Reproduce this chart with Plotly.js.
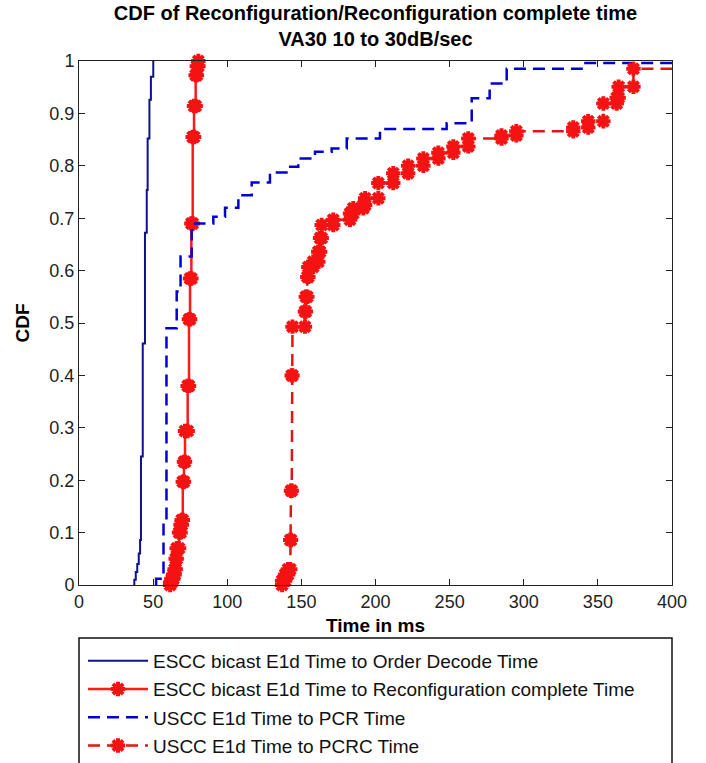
<!DOCTYPE html>
<html>
<head>
<meta charset="utf-8">
<script src="https://cdn.plot.ly/plotly-3.0.1.min.js"></script>
<style>html,body{margin:0;padding:0;background:#fff;}#chart{width:706px;height:763px;}</style>
</head>
<body>
<div id="chart"></div>
<script>
// ---- data (step positions in ms, CDF level after each step) ----
const seriesNames = [
  "ESCC bicast E1d Time to Order Decode Time",
  "ESCC bicast E1d Time to Reconfiguration complete Time",
  "USCC E1d Time to PCR Time",
  "USCC E1d Time to PCRC Time"
];
const escOrderX = [37.3, 38.3, 39.3, 40.3, 41.2, 41.8, 43.0, 44.5, 45.7, 46.3, 47.5, 48.5, 50.1];
const escOrderF = [0.01, 0.025, 0.04, 0.06, 0.086, 0.245, 0.461, 0.672, 0.754, 0.852, 0.926, 0.97, 1.0];

const escReconfX = [61.5, 62.5, 63.6, 64.5, 65.2, 65.9, 67.5, 68.5, 69.3, 70.0, 70.8, 71.5, 73.3, 74.2, 74.9, 75.8, 76.7, 77.6, 78.7, 79.5, 80.5];
const escReconfF = [0.005, 0.012, 0.02, 0.03, 0.05, 0.07, 0.10, 0.115, 0.124, 0.197, 0.235, 0.294, 0.38, 0.507, 0.585, 0.69, 0.855, 0.914, 0.973, 0.99, 1.0];

const usPcrX = [52, 57, 59, 65.9, 68.5, 76, 78.3, 90.6, 98.5, 107.5, 116.5, 128.8, 141.2, 147.9, 159.2, 170.4, 180.6, 203, 248, 264.9, 277, 288.5, 339];
const usPcrF = [0.012, 0.12, 0.49, 0.56, 0.627, 0.677, 0.69, 0.703, 0.72, 0.744, 0.768, 0.787, 0.798, 0.814, 0.827, 0.833, 0.852, 0.870, 0.881, 0.929, 0.957, 0.985, 0.996];

const usPcrcX = [137, 139, 141, 142.5, 143, 143.5, 144, 152.4, 153, 154, 154.7, 158, 161.4, 162.6, 163.7, 171.5, 182.8, 185, 191.8, 193, 201.9, 212, 222, 232.3, 242.4, 252.5, 262.6, 285, 295, 333.4, 343.5, 353.7, 362.7, 364, 374];
const usPcrcF = [0.008, 0.02, 0.03, 0.086, 0.18, 0.40, 0.493, 0.522, 0.55, 0.588, 0.607, 0.617, 0.636, 0.662, 0.687, 0.697, 0.709, 0.719, 0.725, 0.738, 0.767, 0.786, 0.80, 0.814, 0.825, 0.837, 0.852, 0.858, 0.866, 0.873, 0.885, 0.919, 0.93, 0.951, 0.985];

const xTicks = [0, 50, 100, 150, 200, 250, 300, 350, 400];
const yTicks = [0, 0.1, 0.2, 0.3, 0.4, 0.5, 0.6, 0.7, 0.8, 0.9, 1];
const yTickText = ["0", "0.1", "0.2", "0.3", "0.4", "0.5", "0.6", "0.7", "0.8", "0.9", "1"];

// build empirical-CDF staircase (like MATLAB cdfplot); an unfinished CDF continues to +inf
const X_INF = 1e5;
function stairs(xs, fs) {
  const x = [xs[0]], y = [0];
  for (let i = 0; i < xs.length; i++) {
    if (i > 0) { x.push(xs[i]); y.push(fs[i - 1]); }
    x.push(xs[i]); y.push(fs[i]);
  }
  if (fs[fs.length - 1] < 1) { x.push(X_INF); y.push(fs[fs.length - 1]); }
  return {x, y};
}

const FONT = "Liberation Sans, Arial, Helvetica, sans-serif";
const s1 = stairs(escOrderX, escOrderF);
const s2 = stairs(escReconfX, escReconfF);
const s3 = stairs(usPcrX, usPcrF);
const s4 = stairs(usPcrcX, usPcrcF);

const starMarker = {symbol: "asterisk-open", size: 12, color: "#f51212", line: {color: "#f51212", width: 4}};

const traces = [
  {x: s1.x, y: s1.y, name: seriesNames[0], mode: "lines", legendgroup: "a",
   line: {color: "#10108c", width: 2}},
  {x: s2.x, y: s2.y, name: seriesNames[1], mode: "lines+markers", legendgroup: "b",
   line: {color: "#ff1a1a", width: 2.5}, marker: starMarker, cliponaxis: false},
  {x: s3.x, y: s3.y, name: seriesNames[2], mode: "lines", legendgroup: "c",
   line: {color: "#0000d0", width: 2.5, dash: "12px,7px"}},
  {x: s4.x, y: s4.y, name: seriesNames[3], mode: "lines+markers", legendgroup: "d",
   line: {color: "#e01515", width: 2.5, dash: "12px,7px"}, marker: starMarker, cliponaxis: false}
];

const L = 79, R = 672, T = 61, B = 585, W = 706, H = 763;
const px2x = p => (p - L) / (R - L);
const px2y = p => (B - p) / (B - T);

const layout = {
  width: W, height: H,
  margin: {l: L, r: W - R, t: T, b: H - B, pad: 0, autoexpand: false},
  paper_bgcolor: "#ffffff", plot_bgcolor: "#ffffff",
  font: {family: FONT, size: 18, color: "#111"},
  title: {text: "<b>CDF of Reconfiguration/Reconfiguration complete time<br>VA30 10 to 30dB/sec</b>",
          font: {family: FONT, size: 20, color: "#000"},
          x: (L + R) / 2 / W, xanchor: "center", xref: "container",
          y: 1 - 20 / H, yanchor: "bottom", yref: "container"},
  xaxis: {range: [0, 400], tickvals: xTicks, ticks: "inside", ticklen: 6, tickcolor: "#222",
          mirror: "allticks", showline: true, linecolor: "#222", linewidth: 1,
          showgrid: false, zeroline: false, tickfont: {size: 18, color: "#222"},
          title: {text: "<b>Time in ms</b>", font: {size: 19, color: "#000"}, standoff: 8}},
  yaxis: {range: [0, 1], tickvals: yTicks, ticktext: yTickText, ticks: "inside", ticklen: 6, tickcolor: "#222",
          mirror: "allticks", showline: true, linecolor: "#222", linewidth: 1,
          showgrid: false, zeroline: false, tickfont: {size: 18, color: "#222"},
          title: {text: "<b>CDF</b>", font: {size: 19, color: "#000"}, standoff: 14}},
  showlegend: true,
  legend: {x: px2x(83), xanchor: "left", y: px2y(642), yanchor: "top",
           bgcolor: "rgba(0,0,0,0)", borderwidth: 0, itemwidth: 60,
           traceorder: "grouped", tracegroupgap: 0.5,
           font: {family: FONT, size: 19, color: "#111"}},
  shapes: [{type: "rect", xref: "paper", yref: "paper",
            x0: 0, x1: 1, y0: px2y(638), y1: px2y(790),
            line: {color: "#111", width: 1.5}, fillcolor: "rgba(0,0,0,0)"}]
};

Plotly.newPlot("chart", traces, layout, {displayModeBar: false, staticPlot: true});
</script>
</body>
</html>
